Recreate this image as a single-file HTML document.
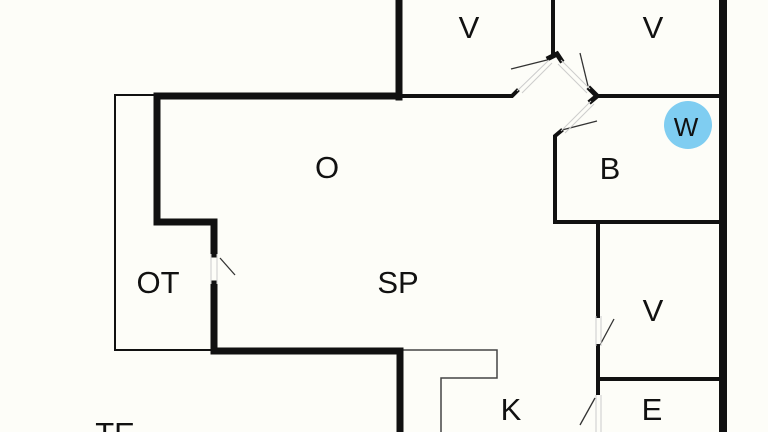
<!DOCTYPE html>
<html><head><meta charset="utf-8"><style>
html,body{margin:0;padding:0;background:#fdfdf8;}
svg{display:block}
text{font-family:"Liberation Sans",sans-serif;font-size:31px;fill:#111;text-anchor:middle;}
</style></head><body>
<svg width="768" height="432" viewBox="0 0 768 432" xmlns="http://www.w3.org/2000/svg">
<rect width="768" height="432" fill="#fdfdf8"/>
<g stroke="#111" fill="none" stroke-linecap="square">
<!-- thin OT box -->
<path d="M156 95 H115 V350 H213" stroke-width="2"/>
<!-- kitchen thin counter -->
<path d="M403 350 H497 V378 H441 V432" stroke-width="1.5" stroke="#444"/>
<!-- thick walls -->
<path d="M399 0 V97" stroke-width="7"/>
<path d="M157 96 H399" stroke-width="7"/>
<path d="M157 96 V222 H214 V254" stroke-width="7"/>
<path d="M214 284 V351 H400 V432" stroke-width="7"/>
<path d="M723 0 V432" stroke-width="8"/>
<!-- thinner walls -->
<path d="M402 96 H512 L517 91" stroke-width="4"/>
<path d="M553 0 V55" stroke-width="4"/>
<path d="M549 58 L557 54 L561 60" stroke-width="5"/>
<path d="M590 89 L597 96 L591 101" stroke-width="5"/>
<path d="M597 96 H720" stroke-width="4"/>
<path d="M561 131 L555 136 V222 H720" stroke-width="4"/>
<path d="M598 224 V316" stroke-width="4"/>
<path d="M598 346 V393" stroke-width="4"/>
<path d="M600 379 H720" stroke-width="4"/>
</g>
<!-- door swings -->
<g stroke="#333" stroke-width="1.3" fill="none">
<line x1="511" y1="69" x2="547" y2="60"/>
<line x1="580" y1="53" x2="588" y2="86"/>
<line x1="562" y1="130" x2="597" y2="121"/>
<line x1="220" y1="258" x2="235" y2="275"/>
<line x1="600" y1="345" x2="614" y2="319"/>
<line x1="580" y1="425" x2="595" y2="398"/>
</g>
<g stroke="#ccc" stroke-width="1" fill="none">
<line x1="517" y1="91" x2="549" y2="60"/>
<line x1="522" y1="93" x2="552" y2="63"/>
<line x1="561" y1="60" x2="590" y2="89"/>
<line x1="558" y1="64" x2="587" y2="93"/>
<line x1="591" y1="101" x2="561" y2="131"/>
<line x1="594" y1="104" x2="565" y2="133"/>
<line x1="211" y1="254" x2="211" y2="284"/><line x1="217" y1="254" x2="217" y2="284"/>
<line x1="596" y1="316" x2="596" y2="346"/><line x1="601" y1="316" x2="601" y2="346"/>
<line x1="596" y1="395" x2="596" y2="432"/><line x1="601" y1="395" x2="601" y2="432"/>
</g>
<circle cx="688" cy="125" r="24" fill="#7fcdf1"/>
<text x="469" y="38">V</text>
<text x="653" y="38">V</text>
<text x="327" y="178">O</text>
<text x="610" y="179">B</text>
<text x="686" y="136" style="font-size:26px">W</text>
<text x="158" y="293">OT</text>
<text x="398" y="293">SP</text>
<text x="653" y="321">V</text>
<text x="511" y="420">K</text>
<text x="652" y="420">E</text>
<text x="115" y="444">TE</text>
</svg>
</body></html>
